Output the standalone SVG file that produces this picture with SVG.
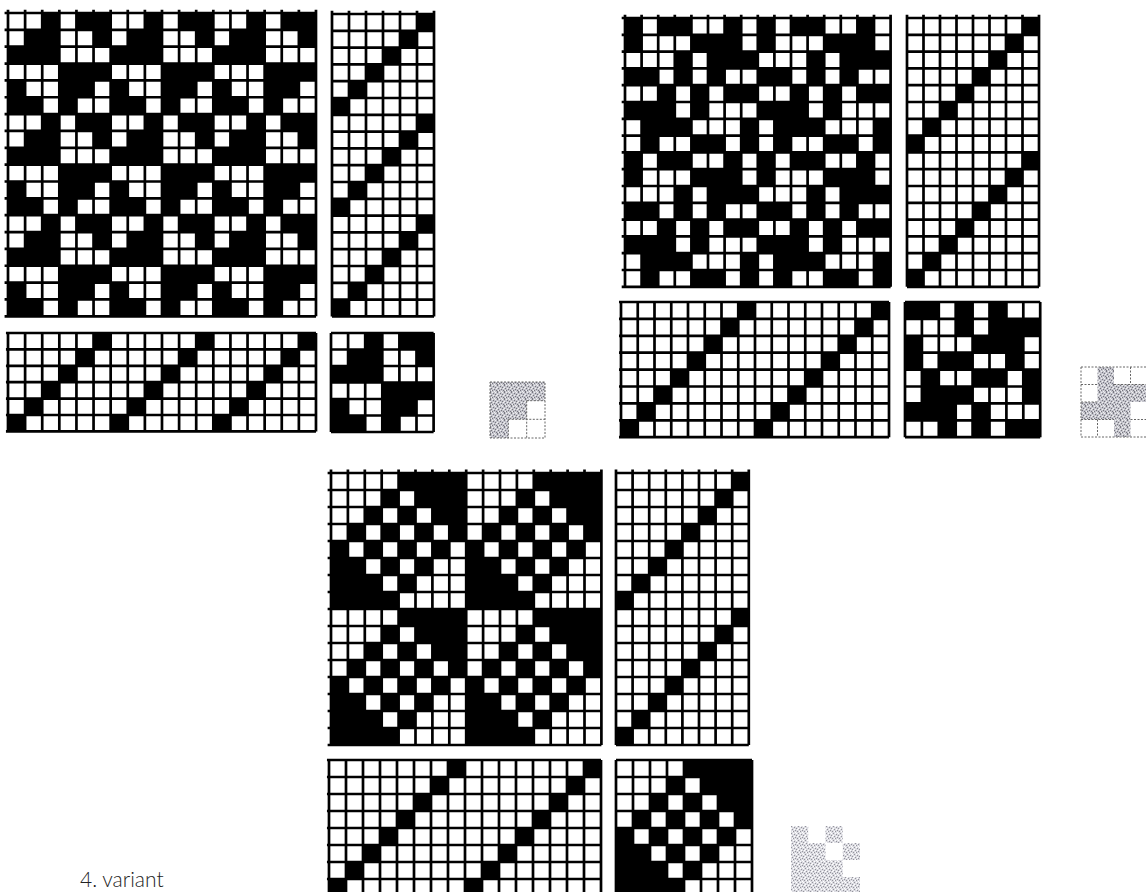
<svg xmlns="http://www.w3.org/2000/svg" width="1146" height="892" viewBox="0 0 1146 892">
<style>
.l{fill:none;stroke:#000;stroke-width:2.7;vector-effect:non-scaling-stroke}
.s{fill:none;stroke:#666;stroke-width:1;stroke-dasharray:2 1.5}
text{font-family:"Lato","Noto Sans",sans-serif;font-weight:300;font-size:21px;fill:#222}
</style>
<defs>
<pattern id="spk" patternUnits="userSpaceOnUse" width="7" height="7">
<rect width="7" height="7" fill="#c4c4cc"/>
<path d="M0 0h1v1H0zM3 1h1v1H3zM5 2h1v1H5zM1 3h1v1H1zM4 4h1v1H4zM6 5h1v1H6zM2 5h1v1H2zM0 6h1v1H0z" fill="#77777f"/>
<path d="M2 0h1v1H2zM5 0h1v1H5zM0 2h1v1H0zM3 3h1v1H3zM6 3h1v1H6zM1 5h1v1H1zM4 6h1v1H4z" fill="#f0f0f0"/>
</pattern>
<pattern id="spl" patternUnits="userSpaceOnUse" width="7" height="7">
<rect width="7" height="7" fill="#dcdce2"/>
<path d="M0 0h1v1H0zM3 1h1v1H3zM5 2h1v1H5zM1 3h1v1H1zM4 4h1v1H4zM6 5h1v1H6zM2 5h1v1H2z" fill="#94949c"/>
<path d="M2 0h1v1H2zM5 0h1v1H5zM0 2h1v1H0zM3 3h1v1H3zM6 3h1v1H6zM1 5h1v1H1zM4 6h1v1H4z" fill="#fff"/>
</pattern>
<path id="t1" d="M2 0h1v1h-1zM4 0h2v1h-2zM1 1h2v1h-2zM5 1h1v1h-1zM0 2h3v1h-3zM3 3h3v1h-3zM0 4h1v1h-1zM3 4h2v1h-2zM0 5h2v1h-2zM3 5h1v1h-1z"/>
<path id="t2" d="M0 0h1v1h-1zM2 0h2v1h-2zM6 0h1v1h-1zM0 1h1v1h-1zM4 1h3v1h-3zM3 2h1v1h-1zM5 2h3v1h-3zM0 3h2v1h-2zM3 3h1v1h-1zM5 3h1v1h-1zM2 4h1v1h-1zM4 4h1v1h-1zM6 4h2v1h-2zM0 5h3v1h-3zM4 5h1v1h-1zM1 6h3v1h-3zM7 6h1v1h-1zM1 7h1v1h-1zM4 7h2v1h-2zM7 7h1v1h-1z"/>
<path id="t2b" d="M0 0h2v1h-2zM3 0h1v1h-1zM5 0h1v1h-1zM3 1h1v1h-1zM5 1h3v1h-3zM0 2h1v1h-1zM4 2h3v1h-3zM0 3h1v1h-1zM2 3h2v1h-2zM6 3h1v1h-1zM1 4h1v1h-1zM4 4h2v1h-2zM7 4h1v1h-1zM1 5h3v1h-3zM7 5h1v1h-1zM0 6h3v1h-3zM4 6h1v1h-1zM2 7h1v1h-1zM4 7h1v1h-1zM6 7h2v1h-2z"/>
<path id="t3" d="M4 0h4v1h-4zM3 1h1v1h-1zM5 1h3v1h-3zM2 2h1v1h-1zM4 2h1v1h-1zM6 2h2v1h-2zM1 3h1v1h-1zM3 3h1v1h-1zM5 3h1v1h-1zM7 3h1v1h-1zM0 4h1v1h-1zM2 4h1v1h-1zM4 4h1v1h-1zM6 4h1v1h-1zM0 5h2v1h-2zM3 5h1v1h-1zM5 5h1v1h-1zM0 6h3v1h-3zM4 6h1v1h-1zM0 7h4v1h-4z"/>
<path id="d6" d="M5 0h1v1h-1zM4 1h1v1h-1zM3 2h1v1h-1zM2 3h1v1h-1zM1 4h1v1h-1zM0 5h1v1h-1z"/>
<path id="d8" d="M7 0h1v1h-1zM6 1h1v1h-1zM5 2h1v1h-1zM4 3h1v1h-1zM3 4h1v1h-1zM2 5h1v1h-1zM1 6h1v1h-1zM0 7h1v1h-1z"/>
<path id="g18" class="l" d="M0-.2V18M1-.2V18M2-.2V18M3-.2V18M4-.2V18M5-.2V18M6-.2V18M7-.2V18M8-.2V18M9-.2V18M10-.2V18M11-.2V18M12-.2V18M13-.2V18M14-.2V18M15-.2V18M16-.2V18M17-.2V18M18-.2V18M-.2 0H18M-.2 1H18M-.2 2H18M-.2 3H18M-.2 4H18M-.2 5H18M-.2 6H18M-.2 7H18M-.2 8H18M-.2 9H18M-.2 10H18M-.2 11H18M-.2 12H18M-.2 13H18M-.2 14H18M-.2 15H18M-.2 16H18M-.2 17H18M-.2 18H18"/>
<path id="r18" class="l" d="M0-.2V18M1-.2V18M2-.2V18M3-.2V18M4-.2V18M5-.2V18M6-.2V18M0 0H6M0 1H6M0 2H6M0 3H6M0 4H6M0 5H6M0 6H6M0 7H6M0 8H6M0 9H6M0 10H6M0 11H6M0 12H6M0 13H6M0 14H6M0 15H6M0 16H6M0 17H6M0 18H6"/>
<path id="h18" class="l" d="M0 0V6M1 0V6M2 0V6M3 0V6M4 0V6M5 0V6M6 0V6M7 0V6M8 0V6M9 0V6M10 0V6M11 0V6M12 0V6M13 0V6M14 0V6M15 0V6M16 0V6M17 0V6M18 0V6M-.12 0H18M-.12 1H18M-.12 2H18M-.12 3H18M-.12 4H18M-.12 5H18M-.12 6H18"/>
<path id="c6" class="l" d="M0 0V6M1 0V6M2 0V6M3 0V6M4 0V6M5 0V6M6 0V6M0 0H6M0 1H6M0 2H6M0 3H6M0 4H6M0 5H6M0 6H6"/>
<path id="g16" class="l" d="M0-.2V16M1-.2V16M2-.2V16M3-.2V16M4-.2V16M5-.2V16M6-.2V16M7-.2V16M8-.2V16M9-.2V16M10-.2V16M11-.2V16M12-.2V16M13-.2V16M14-.2V16M15-.2V16M16-.2V16M-.2 0H16M-.2 1H16M-.2 2H16M-.2 3H16M-.2 4H16M-.2 5H16M-.2 6H16M-.2 7H16M-.2 8H16M-.2 9H16M-.2 10H16M-.2 11H16M-.2 12H16M-.2 13H16M-.2 14H16M-.2 15H16M-.2 16H16"/>
<path id="r16" class="l" d="M0-.2V16M1-.2V16M2-.2V16M3-.2V16M4-.2V16M5-.2V16M6-.2V16M7-.2V16M8-.2V16M0 0H8M0 1H8M0 2H8M0 3H8M0 4H8M0 5H8M0 6H8M0 7H8M0 8H8M0 9H8M0 10H8M0 11H8M0 12H8M0 13H8M0 14H8M0 15H8M0 16H8"/>
<path id="h16" class="l" d="M0 0V8M1 0V8M2 0V8M3 0V8M4 0V8M5 0V8M6 0V8M7 0V8M8 0V8M9 0V8M10 0V8M11 0V8M12 0V8M13 0V8M14 0V8M15 0V8M16 0V8M-.12 0H16M-.12 1H16M-.12 2H16M-.12 3H16M-.12 4H16M-.12 5H16M-.12 6H16M-.12 7H16M-.12 8H16"/>
<path id="c8" class="l" d="M0 0V8M1 0V8M2 0V8M3 0V8M4 0V8M5 0V8M6 0V8M7 0V8M8 0V8M0 0H8M0 1H8M0 2H8M0 3H8M0 4H8M0 5H8M0 6H8M0 7H8M0 8H8"/>
</defs>
<rect width="1146" height="892" fill="#fff"/>

<g id="draft-1">
<g id="draft-1-drawdown" transform="translate(8 13) scale(17.11 16.85)">
<use href="#t1"/><use href="#t1" x="6"/><use href="#t1" x="12"/>
<use href="#t1" y="6"/><use href="#t1" x="6" y="6"/><use href="#t1" x="12" y="6"/>
<use href="#t1" y="12"/><use href="#t1" x="6" y="12"/><use href="#t1" x="12" y="12"/>
<use href="#g18"/>
</g>
<g id="draft-1-treadling" transform="translate(332 14) scale(17 16.8)">
<use href="#d6"/><use href="#d6" y="6"/><use href="#d6" y="12"/><use href="#r18"/>
</g>
<g id="draft-1-threading" transform="translate(8 333) scale(17.11 16.4)">
<use href="#d6"/><use href="#d6" x="6"/><use href="#d6" x="12"/><use href="#h18"/>
</g>
<g id="draft-1-tieup" transform="translate(331 333) scale(17.1 16.5)">
<use href="#t1"/><use href="#c6"/>
</g>
<g id="draft-1-swatch">
<rect x="490" y="382" width="55" height="56" fill="url(#spk)"/>
<path d="M526.7 400.7H545V438H508.3V419.3H526.7z" fill="#fff"/>
<path class="s" d="M490 382H545V438H490zM526.7 400.7H545M508.3 419.3H545M526.7 400.7V438M508.3 419.3V438"/>
</g>
</g>

<g id="draft-2">
<g id="draft-2-drawdown" transform="translate(625 18) scale(16.6 16.8)">
<use href="#t2"/><use href="#t2" x="8"/><use href="#t2" y="8"/><use href="#t2" x="8" y="8"/><use href="#g16"/>
</g>
<g id="draft-2-treadling" transform="translate(907 18) scale(16.5 16.8)">
<use href="#d8"/><use href="#d8" y="8"/><use href="#r16"/>
</g>
<g id="draft-2-threading" transform="translate(621 302) scale(16.75 16.9)">
<use href="#d8"/><use href="#d8" x="8"/><use href="#h16"/>
</g>
<g id="draft-2-tieup" transform="translate(905 302) scale(16.9 16.9)">
<use href="#t2b"/><use href="#c8"/>
</g>
<g id="draft-2-swatch">
<rect x="1081" y="367" width="66" height="70" fill="url(#spk)"/>
<path d="M1081 367h16.5v35h-16.5zM1114 367h33v17.5h-33zM1130.5 402h16.5v17.500h-16.500zM1081 419.500h33V437h-33zM1130.500 419.500h16.500V437h-16.500z" fill="#fff"/>
<path class="s" d="M1081 367H1147M1081 437H1147M1081 367V437M1081 384.500H1097.500M1114 384.500H1147M1081 402H1097.500M1130.500 419.500H1147M1081 419.500H1114M1097.500 419.500V437M1130.500 367V384.500"/>
</g>
</g>

<g id="draft-3">
<g id="draft-3-drawdown" transform="translate(331 473) scale(16.9 17)">
<use href="#t3"/><use href="#t3" x="8"/><use href="#t3" y="8"/><use href="#t3" x="8" y="8"/><use href="#g16"/>
</g>
<g id="draft-3-treadling" transform="translate(616 473) scale(16.6 17)">
<use href="#d8"/><use href="#d8" y="8"/><use href="#r16"/>
</g>
<g id="draft-3-threading" transform="translate(329 760) scale(17 17)">
<use href="#d8"/><use href="#d8" x="8"/><use href="#h16"/>
</g>
<g id="draft-3-tieup" transform="translate(616 760) scale(17 17)">
<use href="#t3"/><use href="#c8"/>
</g>
<g id="draft-3-swatch">
<rect x="791" y="826" width="69" height="66" fill="url(#spl)"/>
<path d="M808.200 826h17.300v17h-17.300zM842.700 826H860v17h-17.300zM825.500 843h17.300v17h-17.300zM842.700 860H860v17h-17.300z" fill="#fff"/>
</g>
</g>

<text id="caption" x="80" y="887">4. variant</text>
</svg>
